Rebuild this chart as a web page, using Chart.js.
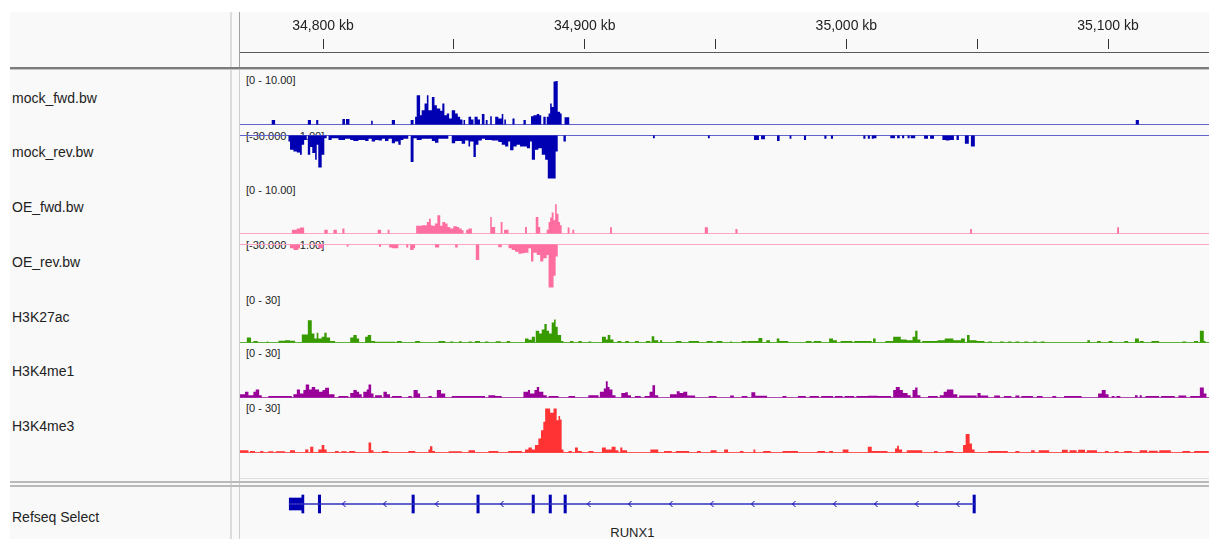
<!DOCTYPE html>
<html>
<head>
<meta charset="utf-8">
<script src="https://cdn.jsdelivr.net/npm/chart.js@4.4.1/dist/chart.umd.min.js"></script>
<style>
  html, body { margin: 0; padding: 0; background: #fff; }
  #igv { position: relative; width: 1209px; height: 539px; overflow: hidden; background: #fff;
         font-family: "Liberation Sans", Arial, sans-serif; }
  #igv div.t { position: absolute; white-space: nowrap; color: #222; }
  #igv canvas { position: absolute; }
</style>
</head>
<body>
<div id="igv"></div>
<script>
// ---- genomic window (chr21, kb) ----
const viewStart = 34768.28;
const viewEnd = 35138.59;
const rulerTicks = [34800, 34850, 34900, 34950, 35000, 35050, 35100];

// ---- coverage bins: [start kb, end kb, value] ----
const mockFwd = [
  [34780.4,34781.7,0.8],[34794.2,34795.4,0.8],[34797.4,34798.2,0.8],[34807.4,34808.4,1.0],
  [34808.8,34810.1,1.0],[34818.4,34819.0,0.7],[34826.3,34827.5,0.8],[34833.5,34834.6,0.8],
  [34835.2,34835.8,1.4],[34835.8,34837.1,5.3],[34837.1,34837.7,1.7],[34837.7,34838.8,2.6],
  [34838.8,34839.7,3.8],[34839.7,34840.3,5.3],[34840.3,34841.6,2.6],[34841.6,34842.6,5.0],
  [34842.6,34843.5,3.5],[34843.5,34844.8,2.9],[34844.8,34845.6,2.5],[34845.6,34846.4,3.8],
  [34846.4,34847.3,1.7],[34847.3,34848.2,2.0],[34848.2,34849.2,1.1],[34849.2,34850.5,2.6],
  [34850.5,34851.5,2.0],[34851.5,34852.4,1.4],[34852.4,34853.3,0.9],[34853.7,34854.3,0.8],
  [34855.6,34856.6,1.4],[34856.6,34857.5,0.9],[34857.9,34859.1,1.4],[34859.1,34860.0,0.9],
  [34860.7,34861.7,1.9],[34862.2,34862.9,0.8],[34863.9,34864.5,1.5],[34865.8,34867.0,1.4],
  [34867.0,34868.3,1.1],[34868.3,34868.9,1.9],[34869.3,34869.9,0.9],[34872.4,34873.2,1.1],
  [34876.6,34877.5,0.8],[34879.5,34880.4,1.5],[34880.4,34881.7,1.7],[34881.7,34882.6,1.9],
  [34882.6,34883.4,1.7],[34884.2,34885.1,1.4],[34885.5,34886.2,1.4],[34886.2,34886.8,2.0],
  [34886.8,34887.4,3.8],[34887.4,34888.1,3.2],[34888.1,34888.9,7.8],[34888.9,34889.7,7.9],
  [34889.7,34890.6,2.3],[34890.6,34891.2,2.0],[34892.3,34894.1,1.3],[35110.6,35111.8,0.8]
];
const mockRev = [
  [34786.8,34787.4,-1.1],[34787.4,34788.7,-2.6],[34788.7,34790.0,-2.9],[34790.0,34791.2,-3.1],
  [34791.2,34791.9,-3.5],[34791.9,34792.8,-1.7],[34792.8,34793.8,-0.8],[34794.2,34795.1,-3.5],
  [34795.1,34795.9,-2.1],[34795.9,34797.0,-3.2],[34797.0,34797.6,-4.4],[34797.6,34798.2,-1.7],
  [34798.2,34799.5,-5.8],[34799.5,34800.5,-3.5],[34800.5,34801.4,-0.5],[34802.1,34803.3,-0.8],
  [34803.3,34805.9,-0.5],[34805.9,34808.4,-0.8],[34808.4,34810.4,-0.6],[34810.4,34811.6,-0.8],
  [34811.6,34813.5,-1.0],[34813.5,34816.1,-0.8],[34816.1,34817.4,-1.0],[34817.4,34818.6,-0.6],
  [34818.6,34819.9,-1.1],[34819.9,34821.2,-0.8],[34821.2,34822.5,-0.9],[34822.5,34823.7,-0.6],
  [34823.7,34825.0,-1.0],[34825.0,34826.3,-0.6],[34826.3,34827.5,-1.4],[34827.5,34828.8,-1.1],
  [34828.8,34829.7,-1.7],[34829.7,34830.7,-0.8],[34830.7,34832.6,-0.6],[34833.5,34834.6,-4.8],
  [34834.6,34835.8,-0.5],[34835.8,34837.7,-0.8],[34837.7,34841.6,-0.6],[34841.6,34842.8,-1.0],
  [34842.8,34844.1,-1.3],[34844.1,34847.9,-0.6],[34849.2,34850.5,-1.4],[34850.5,34853.0,-1.0],
  [34853.0,34854.3,-1.5],[34854.3,34855.6,-0.9],[34855.6,34856.2,-2.0],[34856.2,34857.5,-1.1],
  [34857.5,34858.4,-3.9],[34858.4,34859.4,-1.7],[34859.4,34860.7,-0.9],[34860.7,34861.9,-0.6],
  [34861.9,34864.5,-0.8],[34864.5,34867.0,-0.9],[34867.0,34868.3,-1.2],[34868.3,34869.6,-1.7],
  [34869.6,34870.8,-2.0],[34870.8,34871.5,-1.1],[34871.5,34872.8,-2.7],[34872.8,34874.0,-2.0],
  [34874.0,34875.3,-1.7],[34875.3,34876.6,-2.0],[34876.6,34877.9,-2.0],[34877.9,34879.1,-2.3],
  [34879.1,34879.8,-1.1],[34879.8,34881.0,-4.4],[34881.0,34882.3,-2.6],[34882.3,34883.6,-2.3],
  [34883.6,34884.9,-3.5],[34884.9,34885.9,-4.4],[34885.9,34888.9,-7.8],[34888.9,34889.7,-2.9],
  [34891.9,34892.8,-1.1],[34926.1,34926.8,-0.5],[34947.1,34947.8,-0.5],[34964.7,34966.6,-0.8],
  [34967.4,34968.9,-0.7],[34973.5,34974.5,-1.0],[34978.3,34979.0,-0.6],[34983.8,34984.6,-0.8],
  [34991.6,34992.4,-0.6],[34994.1,34994.9,-0.6],[35006.5,35007.3,-0.6],[35008.2,35009.0,-0.6],
  [35009.7,35010.5,-0.6],[35010.5,35011.5,-0.5],[35016.8,35018.6,-0.5],[35019.4,35020.4,-0.5],
  [35021.3,35022.1,-0.5],[35023.4,35024.2,-0.5],[35024.6,35026.3,-0.5],[35029.7,35031.2,-0.6],
  [35032.0,35033.5,-0.6],[35036.7,35038.0,-0.8],[35038.0,35039.4,-0.9],[35039.4,35041.1,-0.8],
  [35042.1,35043.0,-0.8],[35045.3,35046.8,-1.5],[35047.6,35049.1,-2.0]
];
const oeFwd = [
  [34788.1,34790.0,0.7],[34790.0,34791.2,0.9],[34791.2,34792.8,1.1],[34800.5,34801.8,0.7],
  [34804.0,34805.3,0.7],[34807.4,34808.2,0.9],[34820.9,34822.2,0.7],[34824.7,34825.4,0.7],
  [34835.6,34837.7,1.4],[34837.7,34839.7,1.5],[34839.7,34840.5,2.1],[34840.5,34841.2,2.7],
  [34841.2,34841.8,1.5],[34841.8,34842.8,1.4],[34842.8,34843.7,1.8],[34843.7,34844.8,3.3],
  [34844.8,34845.6,1.4],[34845.6,34846.7,2.1],[34846.7,34847.6,1.8],[34847.6,34848.6,1.2],
  [34848.6,34849.8,0.9],[34849.8,34851.1,1.3],[34851.1,34852.0,1.2],[34852.0,34853.0,0.9],
  [34853.0,34853.7,0.6],[34854.7,34855.6,0.7],[34855.6,34856.9,0.9],[34863.9,34864.5,3.0],
  [34864.5,34865.8,1.2],[34867.9,34868.6,2.1],[34869.2,34870.9,0.7],[34877.2,34877.9,1.2],
  [34881.3,34882.3,3.0],[34882.3,34883.0,1.2],[34885.5,34886.2,0.7],[34886.2,34886.8,2.1],
  [34886.8,34887.4,2.9],[34887.4,34888.1,3.8],[34888.1,34888.7,2.4],[34888.7,34889.3,5.3],
  [34889.3,34890.0,3.6],[34890.0,34890.6,2.1],[34890.6,34891.2,1.5],[34893.5,34894.2,1.1],
  [34895.3,34896.0,0.7],[34909.7,34910.4,1.15],[34945.9,34947.1,1.15],[34957.6,34958.4,0.8],
  [35047.3,35048.0,0.8],[35103.5,35104.2,1.15]
];
const oeRev = [
  [34787.4,34788.7,-0.7],[34788.7,34790.6,-1.0],[34790.6,34791.2,-0.7],[34798.2,34800.2,-0.7],
  [34809.1,34809.7,-0.4],[34821.4,34822.2,-0.4],[34825.3,34826.3,-0.55],[34826.3,34828.8,-0.7],
  [34831.8,34832.6,-0.55],[34833.3,34834.6,-1.0],[34834.6,34835.2,-0.7],[34842.8,34844.4,-0.55],
  [34850.5,34851.5,-0.55],[34858.4,34859.7,-2.8],[34867.0,34868.3,-0.5],[34870.9,34872.1,-0.7],
  [34872.1,34873.4,-1.0],[34873.4,34874.7,-1.3],[34874.7,34876.0,-1.7],[34876.0,34877.2,-1.6],
  [34877.2,34878.5,-1.5],[34878.5,34879.5,-0.7],[34879.5,34880.4,-3.1],[34880.4,34881.7,-1.5],
  [34881.7,34883.0,-1.9],[34883.0,34884.2,-3.1],[34884.2,34885.5,-2.5],[34885.5,34886.2,-1.9],
  [34886.2,34888.1,-7.8],[34888.1,34888.9,-5.7],[34888.9,34889.7,-2.2]
];
const h3k27ac = [
  [34770.9,34772.5,2.8],[34773.4,34775.1,0.9],[34778.5,34779.1,0.5],[34783.0,34785.5,1.0],
  [34785.5,34787.4,1.3],[34787.4,34789.3,1.0],[34791.9,34794.2,4.5],[34794.2,34795.7,12.6],
  [34795.7,34796.7,5.1],[34796.7,34797.6,2.3],[34797.6,34798.2,5.5],[34798.2,34799.5,2.3],
  [34799.5,34800.5,3.2],[34800.5,34801.4,5.5],[34801.4,34802.7,2.8],[34802.7,34804.6,0.8],
  [34810.4,34811.6,2.8],[34811.6,34812.9,4.2],[34812.9,34813.8,2.3],[34816.1,34817.1,3.2],
  [34817.1,34818.4,4.2],[34818.4,34819.9,0.9],[34819.9,34827.5,0.4],[34828.2,34830.1,0.9],
  [34835.2,34837.1,0.9],[34844.1,34846.7,0.9],[34848.6,34849.8,0.6],[34852.0,34853.0,0.7],
  [34855.6,34856.9,0.6],[34858.1,34860.0,0.8],[34861.9,34863.2,0.6],[34866.0,34867.9,0.7],
  [34870.2,34871.5,0.8],[34877.2,34878.5,2.3],[34878.5,34879.8,1.5],[34879.8,34881.0,3.2],
  [34881.3,34882.6,6.6],[34882.6,34883.6,5.1],[34883.6,34884.6,7.4],[34884.6,34885.5,10.4],
  [34885.5,34886.4,6.6],[34886.4,34887.4,5.1],[34887.4,34888.3,11.3],[34888.3,34888.9,13.0],
  [34888.9,34889.7,8.9],[34889.7,34891.0,4.2],[34891.0,34891.9,0.9],[34894.4,34895.7,0.9],
  [34897.6,34898.9,0.9],[34901.4,34902.5,0.5],[34906.6,34908.1,3.2],[34908.1,34908.8,1.7],
  [34908.8,34909.8,4.2],[34909.8,34911.0,1.7],[34912.5,34914.0,0.8],[34915.5,34916.9,0.9],
  [34919.2,34920.7,0.8],[34923.4,34925.1,0.9],[34925.6,34926.6,3.6],[34926.6,34928.1,1.3],
  [34928.8,34929.6,1.3],[34934.8,34937.0,0.9],[34939.7,34943.7,0.8],[34946.6,34948.9,0.8],
  [34950.4,34952.6,0.8],[34955.6,34956.3,0.6],[34960.0,34961.9,0.8],[34962.2,34966.4,0.9],
  [34966.4,34967.9,2.6],[34969.4,34970.8,1.3],[34973.4,34974.4,2.3],[34974.4,34977.8,0.9],
  [34984.5,34986.7,0.9],[34987.5,34990.4,0.8],[34993.4,34994.9,2.3],[34994.9,34996.4,1.3],
  [34997.8,35002.3,0.8],[35003.0,35009.7,0.8],[35010.2,35011.2,2.3],[35014.9,35017.9,0.9],
  [35017.9,35020.8,3.2],[35020.8,35023.1,1.7],[35023.1,35025.3,1.3],[35025.3,35026.3,3.2],
  [35026.3,35027.2,6.6],[35027.2,35028.3,1.7],[35029.0,35034.9,0.8],[35034.9,35037.6,1.3],
  [35037.6,35040.9,2.3],[35040.9,35043.8,1.3],[35043.8,35045.3,2.3],[35046.1,35047.1,4.2],
  [35047.1,35049.8,1.3],[35049.8,35052.8,0.9],[35054.2,35055.7,0.6],[35058.7,35060.2,0.6],
  [35061.7,35063.1,0.6],[35064.6,35066.1,0.6],[35068.0,35069.5,0.6],[35071.3,35072.8,0.6],
  [35074.3,35075.8,0.6],[35092.1,35093.1,1.3],[35095.8,35097.2,0.9],[35100.2,35101.7,0.9],
  [35106.2,35107.7,0.8],[35110.3,35111.8,2.3],[35112.1,35113.6,0.8],[35116.6,35119.5,0.8],
  [35128.4,35129.9,0.6],[35132.9,35134.4,0.8],[35135.1,35136.6,6.6],[35136.6,35137.3,0.9]
];
const h3k4me1 = [
  [34768.3,34770.2,1.9],[34770.2,34771.5,3.2],[34771.5,34773.4,1.3],[34773.4,34774.3,3.2],
  [34774.3,34775.6,4.5],[34775.6,34776.6,1.3],[34779.1,34785.5,0.8],[34785.5,34788.1,0.8],
  [34788.7,34790.0,1.9],[34790.0,34791.2,4.5],[34791.2,34792.5,2.3],[34792.5,34793.4,4.2],
  [34793.4,34794.7,7.4],[34794.7,34795.7,4.5],[34795.7,34797.0,6.0],[34797.0,34798.5,4.5],
  [34798.5,34799.8,3.2],[34799.8,34800.8,4.2],[34800.8,34802.3,5.5],[34802.3,34804.4,1.9],
  [34805.9,34809.7,0.8],[34810.4,34811.6,2.6],[34811.6,34812.9,4.2],[34812.9,34813.8,3.2],
  [34813.8,34814.8,1.9],[34815.4,34816.7,3.2],[34816.7,34817.4,4.5],[34817.4,34818.4,7.4],
  [34818.4,34819.3,2.3],[34819.9,34822.5,1.3],[34823.1,34824.4,3.2],[34824.4,34825.6,1.9],
  [34826.3,34830.1,0.8],[34832.6,34833.9,0.8],[34834.6,34836.2,4.2],[34836.2,34837.1,2.3],
  [34840.3,34841.6,0.8],[34843.5,34845.1,4.2],[34845.1,34846.7,2.3],[34849.2,34855.6,0.8],
  [34855.6,34861.9,0.8],[34863.2,34865.8,1.3],[34865.8,34868.3,0.8],[34876.6,34878.3,3.2],
  [34878.3,34879.1,4.2],[34879.1,34880.8,2.3],[34880.8,34881.7,4.2],[34881.7,34882.6,6.0],
  [34882.6,34884.2,3.2],[34884.2,34885.5,1.3],[34886.2,34890.0,0.8],[34893.8,34896.3,0.8],
  [34901.4,34905.3,1.3],[34905.8,34907.3,3.2],[34907.3,34908.1,5.1],[34908.1,34908.8,9.2],
  [34908.8,34909.5,6.0],[34909.5,34910.6,4.5],[34910.6,34911.8,1.3],[34914.0,34915.5,2.6],
  [34915.5,34916.5,3.0],[34916.5,34917.7,1.3],[34919.2,34921.4,0.8],[34922.9,34924.8,0.8],
  [34924.8,34925.9,3.2],[34925.9,34926.9,7.0],[34926.9,34928.1,1.3],[34932.6,34935.2,1.9],
  [34935.2,34936.3,3.6],[34936.3,34937.7,2.6],[34937.7,34939.2,3.2],[34939.2,34942.2,1.1],
  [34947.4,34950.4,0.8],[34955.6,34957.0,1.1],[34960.0,34962.2,0.8],[34963.7,34965.2,3.0],
  [34965.2,34969.7,1.0],[34975.6,34977.1,0.8],[34981.5,34984.5,0.8],[34986.0,34989.5,0.8],
  [34990.4,34994.9,0.8],[34995.6,34998.6,0.8],[34999.3,35003.0,0.8],[35003.8,35008.2,0.9],
  [35008.2,35011.9,1.0],[35011.9,35017.1,0.8],[35017.9,35018.9,4.2],[35018.9,35020.4,6.0],
  [35020.4,35021.6,4.2],[35021.6,35023.4,2.6],[35023.4,35024.6,1.3],[35025.3,35026.3,4.2],
  [35026.3,35027.2,5.7],[35027.2,35028.3,1.3],[35031.2,35034.9,0.8],[35035.7,35037.2,1.3],
  [35037.2,35038.4,3.2],[35038.4,35040.9,4.5],[35040.9,35042.4,1.9],[35043.1,35049.8,1.1],
  [35050.1,35051.3,2.6],[35051.3,35054.2,1.1],[35056.5,35058.7,1.1],[35060.2,35063.1,0.8],
  [35064.6,35066.1,1.1],[35066.9,35071.3,0.8],[35072.8,35075.0,0.8],[35078.7,35080.2,0.9],
  [35083.2,35089.9,0.9],[35096.2,35097.6,2.3],[35097.6,35099.1,4.2],[35099.1,35100.2,1.9],
  [35101.4,35102.5,0.8],[35103.2,35104.7,0.8],[35110.3,35111.3,1.3],[35112.1,35112.9,1.3],
  [35114.3,35119.5,0.8],[35120.3,35125.5,0.8],[35126.9,35129.9,1.1],[35131.4,35135.1,0.9],
  [35135.1,35136.6,5.7],[35136.6,35137.6,2.3]
];
const h3k4me3 = [
  [34768.3,34771.5,1.3],[34772.1,34774.0,0.9],[34776.0,34777.2,0.9],[34779.1,34781.0,0.7],
  [34782.0,34785.5,0.7],[34787.4,34789.3,1.3],[34793.2,34794.4,1.7],[34795.1,34796.3,3.2],
  [34798.2,34799.5,1.7],[34799.5,34800.5,4.2],[34800.5,34801.4,1.7],[34804.6,34806.0,0.8],
  [34807.0,34809.0,0.7],[34810.0,34812.3,0.8],[34817.4,34818.4,5.7],[34818.4,34819.3,1.3],
  [34822.5,34825.0,0.8],[34832.6,34835.2,0.8],[34840.3,34840.9,1.7],[34840.9,34841.8,3.6],
  [34841.8,34842.8,0.8],[34848.0,34853.0,0.7],[34855.6,34858.1,1.3],[34863.2,34867.0,0.8],
  [34870.8,34876.0,0.8],[34877.2,34878.5,1.7],[34878.5,34879.8,2.8],[34879.8,34881.0,1.7],
  [34881.0,34882.3,4.2],[34882.3,34883.3,7.9],[34883.3,34884.2,12.6],[34884.2,34884.9,17.4],
  [34884.9,34886.8,24.9],[34886.8,34888.1,22.5],[34888.1,34889.3,24.9],[34889.3,34890.0,18.3],
  [34890.0,34890.6,20.6],[34890.6,34891.2,18.7],[34891.2,34891.9,1.7],[34893.8,34895.1,0.8],
  [34896.3,34897.4,2.8],[34897.4,34898.9,0.8],[34901.4,34903.4,0.8],[34906.6,34908.1,2.8],
  [34908.1,34910.3,1.7],[34910.3,34911.8,3.2],[34911.8,34912.9,1.3],[34913.6,34914.4,2.8],
  [34914.4,34916.2,1.3],[34925.1,34928.1,1.7],[34930.3,34933.3,0.8],[34934.8,34939.9,0.9],
  [34942.9,34944.4,0.9],[34948.1,34950.4,1.3],[34953.3,34954.8,1.7],[34959.3,34960.7,0.9],
  [34964.5,34965.2,1.7],[34968.2,34971.1,0.8],[34975.6,34981.5,0.8],[34988.9,34991.9,0.9],
  [34993.4,34994.9,0.9],[34998.6,35000.8,1.7],[35008.2,35009.7,3.2],[35009.7,35015.7,0.9],
  [35018.6,35019.4,2.3],[35019.4,35020.1,3.8],[35020.1,35021.3,1.7],[35023.1,35029.0,1.3],
  [35033.5,35034.9,0.8],[35037.9,35040.9,0.8],[35044.6,35045.6,4.2],[35045.6,35047.1,10.4],
  [35047.1,35048.0,5.1],[35048.0,35049.0,1.7],[35054.2,35061.7,0.8],[35064.6,35066.1,0.8],
  [35070.6,35072.0,1.3],[35073.5,35077.5,1.3],[35082.4,35084.6,1.5],[35085.3,35088.0,1.3],
  [35088.6,35091.2,1.5],[35091.9,35095.8,1.3],[35098.8,35100.2,0.9],[35102.5,35104.0,0.9],
  [35106.2,35109.1,0.8],[35112.1,35115.0,1.3],[35115.6,35119.0,1.0],[35119.6,35124.0,1.3],
  [35128.4,35131.4,0.8],[35132.9,35138.5,0.9]
];

// ---- RUNX1 (Refseq Select), minus strand, kb ----
const geneName = 'RUNX1';
const geneSpan = [34787.1, 35049.3];
const utrBlocks = [[34787.1, 34791.9]];
const cdsExons = [
  [34791.9,34792.7],[34798.2,34799.1],[34834.0,34834.9],[34858.8,34859.7],
  [34879.9,34880.8],[34886.4,34887.3],[34892.1,34893.0],[35048.4,35049.3]
];

const trackNames = ['mock_fwd.bw','mock_rev.bw','OE_fwd.bw','OE_rev.bw','H3K27ac','H3K4me1','H3K4me3'];
const rangeLabels = ['[0 - 10.00]','[-30.000 - -1.00]','[0 - 10.00]','[-30.000 - -1.00]','[0 - 30]','[0 - 30]','[0 - 30]'];
const trackBins = [mockFwd, mockRev, oeFwd, oeRev, h3k27ac, h3k4me1, h3k4me3];

// ---- layout / style ----
const DATA_LEFT = 240, DATA_W = 969;
const trackStyle = [
  { fill:'#0000b2', base:'#6262cc', top:66,  h:62, zeroY:124.5, unitPx:5.5,   nameY:98,    rangeY:80.5 },
  { fill:'#0000b2', base:'#6262cc', top:128, h:54, zeroY:135.5, unitPx:5.5,   nameY:152.3, rangeY:136.8 },
  { fill:'#ff6ea0', base:'#ffa4c4', top:175, h:62, zeroY:233.5, unitPx:5.5,   nameY:207,   rangeY:190 },
  { fill:'#ff6ea0', base:'#ffa4c4', top:237, h:55, zeroY:244.5, unitPx:5.5,   nameY:261.7, rangeY:245.8 },
  { fill:'#379b00', base:'#5fb238', top:287, h:58, zeroY:342.5, unitPx:1.767, nameY:316.7, rangeY:300 },
  { fill:'#990099', base:'#b04cb0', top:345, h:55, zeroY:397.5, unitPx:1.767, nameY:371,   rangeY:353.8 },
  { fill:'#ff3333', base:'#ff5a5a', top:400, h:55, zeroY:452.5, unitPx:1.767, nameY:425.6, rangeY:408.5 }
];

const root = document.getElementById('igv');
function box(l, t, w, h, bg) {
  const d = document.createElement('div');
  d.style.cssText = `position:absolute;left:${l}px;top:${t}px;width:${w}px;height:${h}px;background:${bg}`;
  root.appendChild(d);
  return d;
}
function label(str, l, cy, size) {
  const d = document.createElement('div');
  d.className = 't';
  d.textContent = str;
  d.style.fontSize = size + 'px';
  d.style.lineHeight = (size + 2) + 'px';
  d.style.left = l + 'px';
  d.style.top = (cy - (size + 2) / 2) + 'px';
  root.appendChild(d);
  return d;
}
function canvasAt(l, t, w, h) {
  const c = document.createElement('canvas');
  c.width = w; c.height = h;
  c.style.left = l + 'px'; c.style.top = t + 'px';
  c.style.width = w + 'px'; c.style.height = h + 'px';
  root.appendChild(c);
  return c;
}

// ---- panel frame ----
box(10, 12, 1199, 527, '#f9f9f9');
box(230, 12, 2, 527, '#dcdcdc');
box(239, 12, 1, 57, '#a0a0a0');
box(239, 69, 1, 470, '#cfcfcf');
box(240, 52, 969, 1, '#5a5a5a');
box(10, 67, 1199, 2, '#7c7c7c');
box(10, 69, 1199, 1, '#c4c4c4');
box(240, 478, 969, 1, '#dedede');
box(10, 481, 1199, 2, '#bababa');
box(10, 485, 1199, 2, '#bababa');

// ---- names and data ranges (beneath the plots) ----
trackNames.forEach((n, i) => label(n, 12, trackStyle[i].nameY, 14));
rangeLabels.forEach((r, i) => label(r, 246, trackStyle[i].rangeY, 11));
label('Refseq Select', 12, 516.7, 14);

const common = {
  responsive: false, animation: false, events: [],
  layout: { padding: 0 },
  plugins: { legend: { display: false }, tooltip: { enabled: false } }
};

// ---- ruler ----
new Chart(canvasAt(DATA_LEFT, 9, DATA_W, 44), {
  type: 'line',
  data: { datasets: [] },
  options: {
    ...common,
    scales: {
      x: {
        type: 'linear', position: 'top', min: viewStart, max: viewEnd,
        afterBuildTicks: s => { s.ticks = rulerTicks.map(v => ({ value: v })); },
        afterFit: s => { s.height = 40; },
        grid: { drawOnChartArea: false, drawTicks: true, tickLength: 10, color: '#333', lineWidth: 1 },
        border: { display: false },
        ticks: {
          autoSkip: false, maxRotation: 0, padding: 4, color: '#222',
          font: { family: '"Liberation Sans", Arial, sans-serif', size: 14 },
          callback: v => (v % 100 === 0 ? v.toLocaleString('en-US') + ' kb' : '')
        }
      },
      y: { display: false }
    }
  }
});

// ---- coverage tracks ----
// each bin holds its value from start to end, then drops back to zero
function stepPoints(bins) {
  const pts = [{ x: viewStart, y: 0 }];
  bins.slice().sort((a, b) => a[0] - b[0]).forEach(([s, e, v]) => {
    pts.push({ x: s, y: v });
    pts.push({ x: e, y: 0 });
  });
  pts.push({ x: viewEnd, y: 0 });
  return pts;
}

trackBins.forEach((bins, i) => {
  const st = trackStyle[i];
  const yMax = (st.zeroY - st.top) / st.unitPx;
  const yMin = -(st.top + st.h - st.zeroY) / st.unitPx;
  new Chart(canvasAt(DATA_LEFT, st.top, DATA_W, st.h), {
    type: 'line',
    data: {
      datasets: [
        { data: stepPoints(bins), stepped: 'before', fill: 'origin', backgroundColor: st.fill,
          borderColor: 'rgba(0,0,0,0)', borderWidth: 0, pointRadius: 0 },
        { data: [{ x: viewStart, y: 0 }, { x: viewEnd, y: 0 }], fill: false,
          borderColor: st.base, borderWidth: 1.2, pointRadius: 0 }
      ]
    },
    options: {
      ...common,
      scales: {
        x: { type: 'linear', min: viewStart, max: viewEnd, display: false },
        y: { type: 'linear', min: yMin, max: yMax, display: false }
      }
    }
  });
});

// ---- gene track ----
const strandArrows = {
  id: 'strandArrows',
  afterDatasetsDraw(chart) {
    const xs = chart.scales.x;
    const cy = (chart.chartArea.top + chart.chartArea.bottom) / 2;
    const blocks = utrBlocks.concat(cdsExons).sort((a, b) => a[0] - b[0]);
    const ctx = chart.ctx;
    ctx.save();
    ctx.strokeStyle = '#0000b2';
    ctx.lineWidth = 1;
    for (let i = 0; i < blocks.length - 1; i++) {
      const a = xs.getPixelForValue(blocks[i][1]);
      const b = xs.getPixelForValue(blocks[i + 1][0]);
      for (let x = a + 22; x < b - 15; x += 41) {
        ctx.beginPath();
        ctx.moveTo(Math.round(x) + 2.5, cy - 3);
        ctx.lineTo(Math.round(x) - 0.5, cy);
        ctx.lineTo(Math.round(x) + 2.5, cy + 3);
        ctx.stroke();
      }
    }
    ctx.restore();
  }
};

const geneChart = new Chart(canvasAt(DATA_LEFT, 486, DATA_W, 36), {
  type: 'bar',
  data: {
    labels: [geneName],
    datasets: [
      { data: [{ y: geneName, x: geneSpan }], backgroundColor: '#3030c0', barThickness: 1 },
      { data: utrBlocks.map(r => ({ y: geneName, x: r })), backgroundColor: '#0000b2', barThickness: 12 },
      { data: cdsExons.map(r => ({ y: geneName, x: r })), backgroundColor: '#0000b2', barThickness: 18 }
    ]
  },
  options: {
    ...common,
    indexAxis: 'y',
    datasets: { bar: { grouped: false, borderWidth: 0 } },
    scales: {
      x: { type: 'linear', min: viewStart, max: viewEnd, display: false },
      y: { type: 'category', display: false }
    }
  },
  plugins: [strandArrows]
});

const gx = DATA_LEFT + geneChart.scales.x.getPixelForValue((geneSpan[0] + geneSpan[1]) / 2);
const gl = label(geneName, 0, 532, 13);
gl.style.left = (gx - gl.offsetWidth / 2) + 'px';
</script>
</body>
</html>
